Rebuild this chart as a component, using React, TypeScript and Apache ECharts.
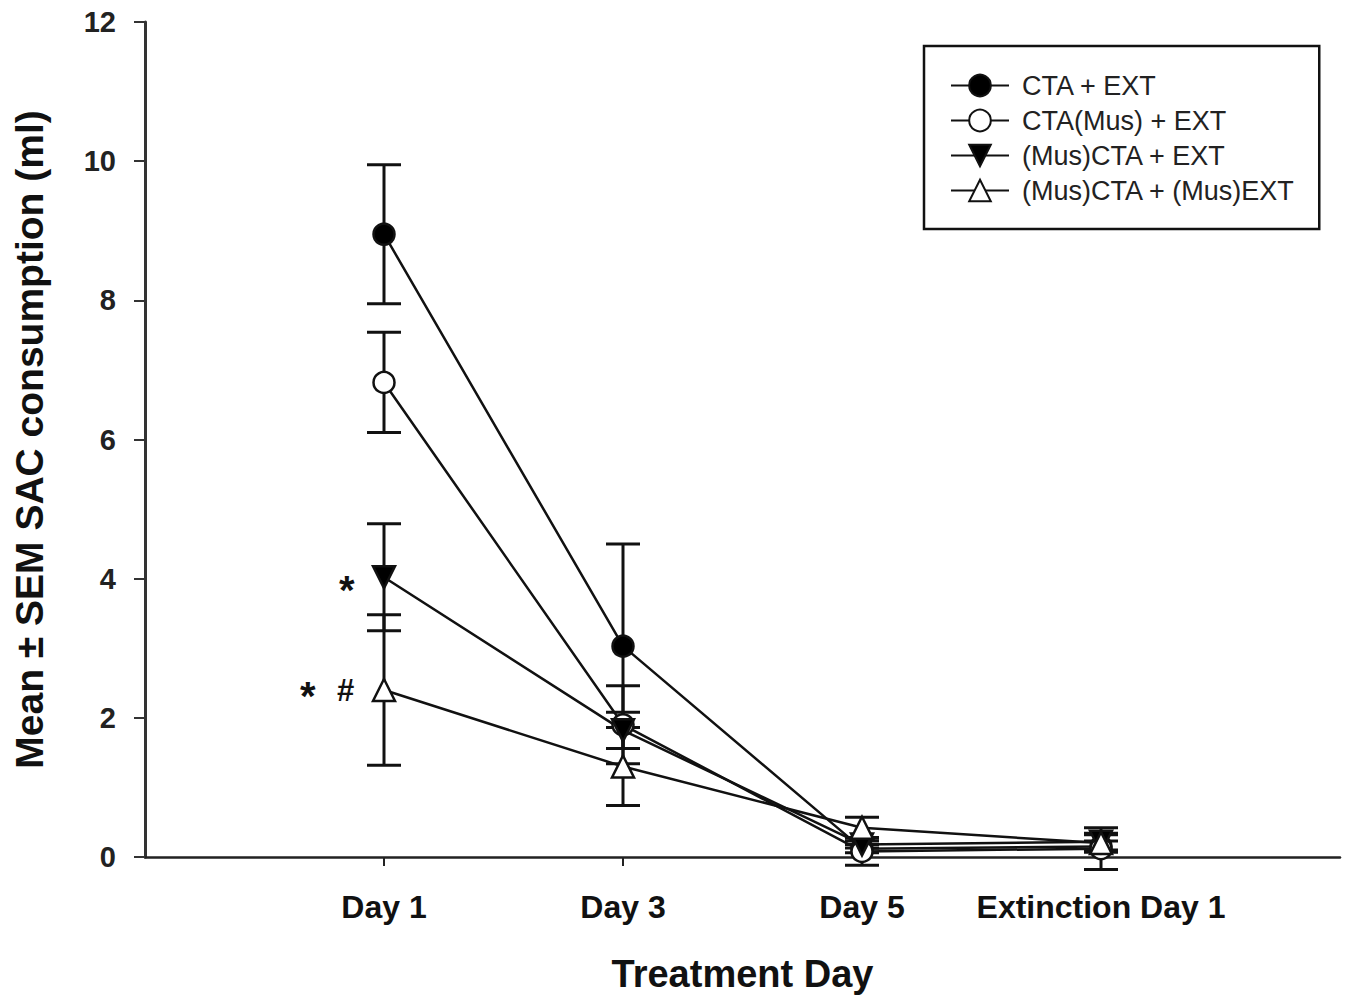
import React, { useEffect, useRef } from "react";
import * as echarts from "echarts";

const days = ["Day 1", "Day 3", "Day 5", "Extinction Day 1"];
const dayPos = [1, 2, 3, 4];
const seriesNames = ["CTA + EXT", "CTA(Mus) + EXT", "(Mus)CTA + EXT", "(Mus)CTA + (Mus)EXT"];
const ctaExt = [8.95, 3.03, 0.12, 0.15];
const ctaExtSem = [1.0, 1.47, 0.06, 0.08];
const ctaMusExt = [6.82, 1.9, 0.08, 0.12];
const ctaMusExtSem = [0.72, 0.56, 0.2, 0.3];
const musCtaExt = [4.02, 1.82, 0.18, 0.22];
const musCtaExtSem = [0.77, 0.26, 0.05, 0.12];
const musCtaMusExt = [2.4, 1.3, 0.42, 0.2];
const musCtaMusExtSem = [1.08, 0.56, 0.15, 0.12];
const yTicks = [0, 2, 4, 6, 8, 10, 12];

const FONT = "'Liberation Sans', Arial, Helvetica, sans-serif";

export default function App() {
  const ref = useRef<HTMLDivElement>(null);
  useEffect(() => {
    if (!ref.current) return;
    const chart = echarts.init(ref.current, null, { renderer: "svg" });
    const means = [ctaExt, ctaMusExt, musCtaExt, musCtaMusExt];
    const sems = [ctaExtSem, ctaMusExtSem, musCtaExtSem, musCtaMusExtSem];
    const symbols = ["circle", "circle", "triangle", "triangle"];
    const fills = ["#000", "#fff", "#000", "#fff"];
    const rotates = [0, 0, 180, 0];

    const errData: number[][] = [];
    means.forEach((m, si) =>
      m.forEach((v, i) => errData.push([dayPos[i], v, v - sems[si][i], v + sems[si][i]]))
    );

    const lineSeries = means.map((m, si) => ({
      name: seriesNames[si],
      type: "line",
      z: 3,
      data: m.map((v, i) => [dayPos[i], v]),
      symbol: symbols[si],
      symbolSize: si >= 2 ? 22 : 21,
      symbolRotate: rotates[si],
      showAllSymbol: true,
      lineStyle: { color: "#111", width: 2.5 },
      itemStyle: { color: fills[si], borderColor: "#111", borderWidth: 2.5 },
      emphasis: { disabled: true },
    }));

    chart.setOption({
      animation: false,
      textStyle: { fontFamily: FONT },
      grid: { left: 145, top: 22, right: 5, bottom: 143, containLabel: false },
      legend: {
        data: seriesNames,
        orient: "vertical",
        left: 924,
        top: 46,
        padding: [26, 24, 25, 26],
        borderColor: "#111",
        borderWidth: 2.5,
        itemWidth: 58,
        itemHeight: 27,
        itemGap: 8,
        selectedMode: false,
        textStyle: { fontSize: 27, color: "#222", fontFamily: FONT, padding: [0, 0, 0, 8], lineHeight: 27 },
      },
      xAxis: {
        type: "value",
        min: 0,
        max: 5,
        interval: 1,
        splitLine: { show: false },
        axisLine: { lineStyle: { color: "#222", width: 2.5 } },
        axisTick: { show: true, length: 9, customValues: dayPos, lineStyle: { color: "#222", width: 2 } },
        axisLabel: {
          customValues: dayPos,
          formatter: (v: number) => days[Math.round(v) - 1] ?? "",
          margin: 34,
          fontSize: 32,
          fontWeight: "bold",
          color: "#111",
          fontFamily: FONT,
        },
        name: "Treatment Day",
        nameLocation: "middle",
        nameGap: 98,
        nameTextStyle: { fontSize: 38, fontWeight: "bold", color: "#111", fontFamily: FONT },
      },
      yAxis: {
        type: "value",
        min: 0,
        max: 12,
        interval: 2,
        splitLine: { show: false },
        axisLine: { show: true, lineStyle: { color: "#333", width: 3 } },
        axisTick: { show: true, length: 11, lineStyle: { color: "#333", width: 2 } },
        axisLabel: {
          margin: 29,
          fontSize: 29,
          fontWeight: "bold",
          color: "#222",
          fontFamily: FONT,
          formatter: (v: number) => (yTicks.includes(v) ? String(v) : ""),
        },
        name: "Mean ± SEM SAC consumption (ml)",
        nameLocation: "middle",
        nameGap: 96,
        nameTextStyle: { fontSize: 39, fontWeight: "bold", color: "#111", fontFamily: FONT },
      },
      series: [
        {
          type: "custom",
          z: 1,
          clip: false,
          data: errData,
          renderItem: (params: any, api: any) => {
            const x = api.value(0);
            const lo = api.coord([x, api.value(2)]);
            const hi = api.coord([x, api.value(3)]);
            const hw = 17;
            const style = { stroke: "#111", lineWidth: 3 };
            return {
              type: "group",
              children: [
                { type: "line", shape: { x1: lo[0], y1: lo[1], x2: hi[0], y2: hi[1] }, style },
                { type: "line", shape: { x1: hi[0] - hw, y1: hi[1], x2: hi[0] + hw, y2: hi[1] }, style },
                { type: "line", shape: { x1: lo[0] - hw, y1: lo[1], x2: lo[0] + hw, y2: lo[1] }, style },
              ],
            };
          },
        },
        ...lineSeries,
      ],
      graphic: [
        { type: "text", left: 339, top: 570, style: { text: "*", fontSize: 40, fontWeight: "bold", fontFamily: FONT, fill: "#111" } },
        { type: "text", left: 300, top: 676, style: { text: "*", fontSize: 40, fontWeight: "bold", fontFamily: FONT, fill: "#111" } },
        { type: "text", left: 337, top: 675, style: { text: "#", fontSize: 31, fontWeight: "bold", fontFamily: FONT, fill: "#111" } },
      ],
    });
    return () => chart.dispose();
  }, []);
  return <div ref={ref} style={{ width: 1345, height: 1000, position: "absolute", left: 0, top: 0, background: "#fff" }} />;
}
